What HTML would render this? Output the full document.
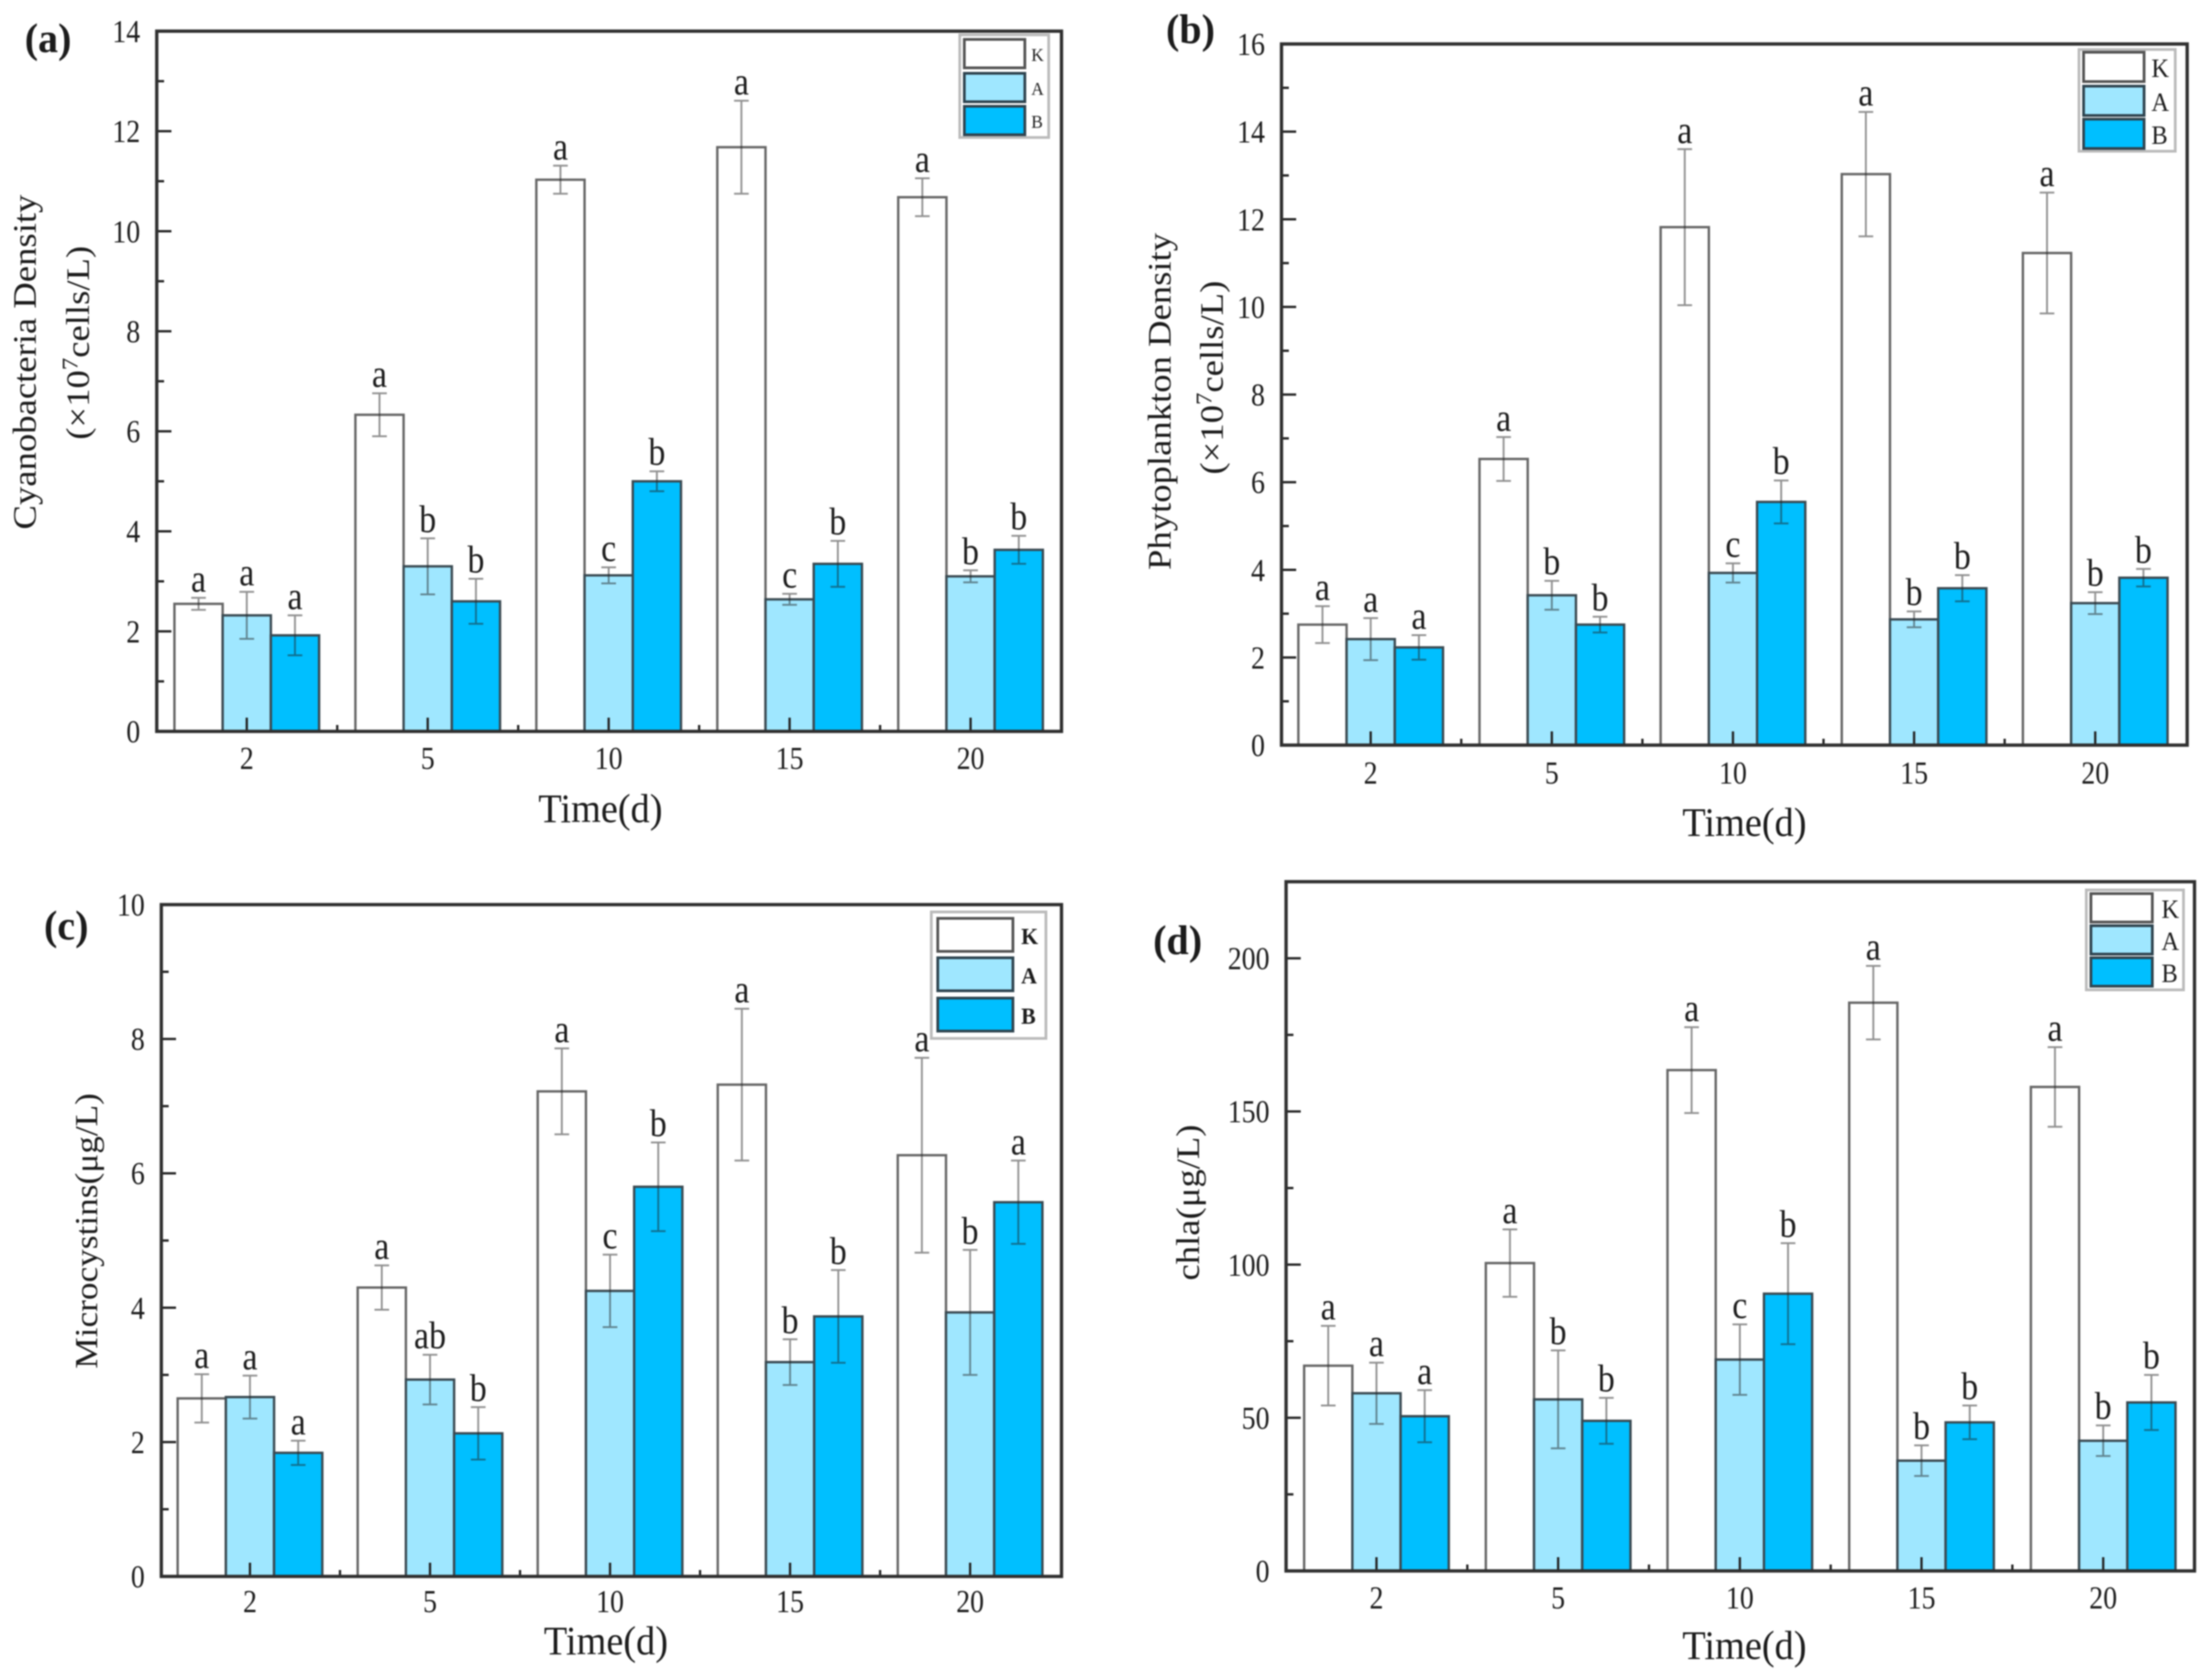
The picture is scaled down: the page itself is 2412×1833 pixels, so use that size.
<!DOCTYPE html>
<html lang="en">
<head>
<meta charset="utf-8">
<title>Cyanobacteria, phytoplankton, microcystins and chla over time</title>
<style>
html,body{margin:0;padding:0;background:#fff;width:2412px;height:1833px;overflow:hidden}
svg{display:block;filter:blur(.7px)}
text{font-family:"Liberation Serif",serif;fill:#1c1c1c}
</style>
</head>
<body>
<svg id="figure" xmlns="http://www.w3.org/2000/svg" width="2412" height="1833" viewBox="0 0 2412 1833"></svg>
<script>
const categories = ['2', '5', '10', '15', '20'];
const seriesNames = ['K', 'A', 'B'];
const seriesColors = ['#ffffff', '#9fe7ff', '#00bfff'];

const aK = [2.55, 6.33, 11.03, 11.68, 10.68];
const aA = [2.32, 3.30, 3.12, 2.64, 3.10];
const aB = [1.92, 2.60, 5.00, 3.35, 3.63];
const aKErr = [0.12, 0.43, 0.28, 0.93, 0.38];
const aAErr = [0.47, 0.56, 0.16, 0.11, 0.12];
const aBErr = [0.40, 0.45, 0.20, 0.46, 0.28];
const aKSig = ['a', 'a', 'a', 'a', 'a'];
const aASig = ['a', 'b', 'c', 'c', 'b'];
const aBSig = ['a', 'b', 'b', 'b', 'b'];
const aTicks = [0, 2, 4, 6, 8, 10, 12, 14];

const bK = [2.75, 6.53, 11.82, 13.03, 11.23];
const bA = [2.42, 3.42, 3.93, 2.87, 3.24];
const bB = [2.23, 2.75, 5.55, 3.58, 3.82];
const bKErr = [0.42, 0.50, 1.78, 1.42, 1.38];
const bAErr = [0.48, 0.33, 0.22, 0.18, 0.25];
const bBErr = [0.28, 0.18, 0.49, 0.30, 0.20];
const bKSig = ['a', 'a', 'a', 'a', 'a'];
const bASig = ['a', 'b', 'c', 'b', 'b'];
const bBSig = ['a', 'b', 'b', 'b', 'b'];
const bTicks = [0, 2, 4, 6, 8, 10, 12, 14, 16];

const cK = [2.65, 4.30, 7.22, 7.32, 6.27];
const cA = [2.67, 2.93, 4.25, 3.19, 3.93];
const cB = [1.84, 2.13, 5.80, 3.87, 5.57];
const cKErr = [0.36, 0.33, 0.64, 1.13, 1.45];
const cAErr = [0.32, 0.37, 0.54, 0.34, 0.93];
const cBErr = [0.18, 0.39, 0.66, 0.69, 0.62];
const cKSig = ['a', 'a', 'a', 'a', 'a'];
const cASig = ['a', 'ab', 'c', 'b', 'b'];
const cBSig = ['a', 'b', 'b', 'b', 'a'];
const cTicks = [0, 2, 4, 6, 8, 10];

const dK = [67, 100.5, 163.5, 185.5, 158];
const dA = [58, 56, 69, 36, 42.5];
const dB = [50.5, 49, 90.5, 48.5, 55];
const dKErr = [13, 11, 14, 12, 13];
const dAErr = [10, 16, 11.5, 5, 5];
const dBErr = [8.5, 7.5, 16.5, 5.5, 9];
const dKSig = ['a', 'a', 'a', 'a', 'a'];
const dASig = ['a', 'b', 'c', 'b', 'b'];
const dBSig = ['a', 'b', 'b', 'b', 'b'];
const dTicks = [0, 50, 100, 150, 200];

const panels = [
  {id:'a', left:171, right:1158, shift:-0.5, top:34, bottom:798, yMax:14, ticks:aTicks,
   vals:[aK,aA,aB], errs:[aKErr,aAErr,aBErr], sig:[aKSig,aASig,aBSig],
   tag:[27,57], tickBase:839, timeX:655, timeY:897, titleSize:40,
   titles:[{t:'Cyanobacteria Density',x:39,y:395},{t:'(×10|7|cells/L)',x:97,y:374}],
   legend:{x:1047,y:38,w:97,h:112,sx:1052,sw:66,sy:[43,80,116],sh:31,lx:1125,fs:20,bold:false}},
  {id:'b', left:1398, right:2386, shift:-1.5, top:48, bottom:813, yMax:16, ticks:bTicks,
   vals:[bK,bA,bB], errs:[bKErr,bAErr,bBErr], sig:[bKSig,bASig,bBSig],
   tag:[1272,47], tickBase:855, timeX:1903, timeY:912, titleSize:40,
   titles:[{t:'Phytoplankton Density',x:1277,y:438},{t:'(×10|7|cells/L)',x:1334,y:412}],
   legend:{x:2268,y:54,w:105,h:111,sx:2273,sw:66,sy:[57,94,130],sh:32,lx:2347,fs:28,bold:false}},
  {id:'c', left:176, right:1158, shift:-1.5, top:987, bottom:1720, yMax:10, ticks:cTicks,
   vals:[cK,cA,cB], errs:[cKErr,cAErr,cBErr], sig:[cKSig,cASig,cBSig],
   tag:[48,1025], tickBase:1759, timeX:661, timeY:1805, titleSize:38.5,
   titles:[{t:'Microcystins(μg/L)',x:106,y:1343}],
   legend:{x:1016,y:995,w:125,h:138,sx:1023,sw:82,sy:[1002,1045,1089],sh:36,lx:1114,fs:25,bold:true}},
  {id:'d', left:1403, right:2394, shift:-0.5, top:962, bottom:1714, yMax:225, ticks:dTicks,
   vals:[dK,dA,dB], errs:[dKErr,dAErr,dBErr], sig:[dKSig,dASig,dBSig],
   tag:[1258,1041], tickBase:1755, timeX:1903, timeY:1810, titleSize:40,
   titles:[{t:'chla(μg/L)',x:1308,y:1312}],
   legend:{x:2276,y:971,w:106,h:109,sx:2281,sw:67,sy:[975,1010,1045],sh:31,lx:2358,fs:28,bold:false}}
];

const NS = 'http://www.w3.org/2000/svg';
const root = document.getElementById('figure');

function el(parent, tag, attrs) {
  const node = document.createElementNS(NS, tag);
  for (const k in attrs) node.setAttribute(k, attrs[k]);
  parent.appendChild(node);
  return node;
}

function label(parent, str, x, y, size, anchor, sx, weight) {
  const node = el(parent, 'text', {
    transform: 'translate(' + x + ',' + y + ') scale(' + sx + ',1)',
    'font-size': size, 'text-anchor': anchor
  });
  if (weight) node.setAttribute('font-weight', weight);
  node.textContent = str;
  return node;
}

function drawPanel(p) {
  const g = el(root, 'g', {});
  
  

  const yScale = v => p.bottom - v / p.yMax * (p.bottom - p.top);
  const step = (p.right - p.left) / categories.length;
  const xCenter = i => p.left + p.shift + step * (i + 0.5);
  const barW = 52.6;

  // bars
  seriesNames.forEach((name, s) => {
    const sg = el(g, 'g', {});
    
    
    categories.forEach((cat, i) => {
      const v = p.vals[s][i];
      const bx = xCenter(i) + (s - 1.5) * barW;
      const bar = el(sg, 'rect', {
        x: bx, y: yScale(v), width: barW, height: p.bottom - yScale(v),
        fill: seriesColors[s], stroke: s === 0 ? '#666' : '#3a4a52', 'stroke-width': 2.6
      });
      
      
    });
  });

  // error bars and significance letters
  seriesNames.forEach((name, s) => {
    categories.forEach((cat, i) => {
      const v = p.vals[s][i];
      const e = p.errs[s][i];
      const cx = xCenter(i) + (s - 1) * barW;
      const hi = yScale(v + e);
      const lo = yScale(v - e);
      const eg = el(g, 'path', {
        d: 'M' + cx + ' ' + hi + 'V' + lo + 'M' + (cx - 8) + ' ' + hi + 'H' + (cx + 8) + 'M' + (cx - 8) + ' ' + lo + 'H' + (cx + 8),
        fill: 'none', stroke: '#222', 'stroke-opacity': 0.5, 'stroke-width': 2
      });
      
      
      const sigText = label(g, p.sig[s][i], cx, hi - 7, 42, 'middle', 0.88);
      
      
    });
  });

  // ticks
  const tg = el(g, 'g', {stroke: '#222', fill: 'none', 'stroke-width': 2.5});
  
  
  p.ticks.forEach((t, i) => {
    const y = yScale(t);
    el(tg, 'path', {d: 'M' + p.left + ' ' + y + 'h16'});
    const minor = p.ticks[i + 1] !== undefined ? (t + p.ticks[i + 1]) / 2 : null;
    if (minor !== null) el(tg, 'path', {d: 'M' + p.left + ' ' + yScale(minor) + 'h8'});
    const tl = label(g, String(t), p.left - 18, y + 12, 35, 'end', 0.87);
    
    
  });
  categories.forEach((cat, i) => {
    const x = xCenter(i);
    el(tg, 'path', {d: 'M' + x + ' ' + p.bottom + 'v-15'});
    if (i > 0) el(tg, 'path', {d: 'M' + (x - step / 2) + ' ' + p.bottom + 'v-7'});
    const tl = label(g, cat, x, p.tickBase, 35, 'middle', 0.87);
    
    
  });

  // frame
  const frame = el(g, 'rect', {
    x: p.left, y: p.top, width: p.right - p.left, height: p.bottom - p.top,
    fill: 'none', stroke: '#2f2f2f', 'stroke-width': 3.6
  });
  
  

  // panel tag
  const tag = label(g, '(' + p.id + ')', p.tag[0], p.tag[1], 46, 'start', 0.95, 'bold');
  
  

  // x title
  const xt = label(g, 'Time(d)', p.timeX, p.timeY, 44, 'middle', 0.95);
  
  

  // y titles
  p.titles.forEach(tt => {
    const node = el(g, 'text', {
      transform: 'translate(' + tt.x + ',' + tt.y + ') rotate(-90) scale(1,0.9)',
      'font-size': p.titleSize, 'text-anchor': 'middle'
    });
    
    
    const parts = tt.t.split('|');
    const first = el(node, 'tspan', {});
    first.textContent = parts[0];
    if (parts.length > 1) {
      const sup = el(node, 'tspan', {dy: -14, 'font-size': 27});
      sup.textContent = parts[1];
      const rest = el(node, 'tspan', {dy: 14});
      rest.textContent = parts[2];
    }
  });

  // legend
  const L = p.legend;
  const lg = el(g, 'g', {});
  
  
  el(lg, 'rect', {x: L.x, y: L.y, width: L.w, height: L.h, fill: '#fff', stroke: '#bbb', 'stroke-width': 3});
  seriesNames.forEach((name, s) => {
    const sw = el(lg, 'rect', {
      x: L.sx, y: L.sy[s], width: L.sw, height: L.sh,
      fill: seriesColors[s], stroke: s === 0 ? '#555' : '#2f4450', 'stroke-width': 3
    });
    
    
    const lt = label(lg, name, L.lx, L.sy[s] + L.sh / 2 + L.fs * 0.4, L.fs, 'start', 0.95, L.bold ? 'bold' : null);
    
    
  });
}

panels.forEach(drawPanel);
</script>
</body>
</html>
